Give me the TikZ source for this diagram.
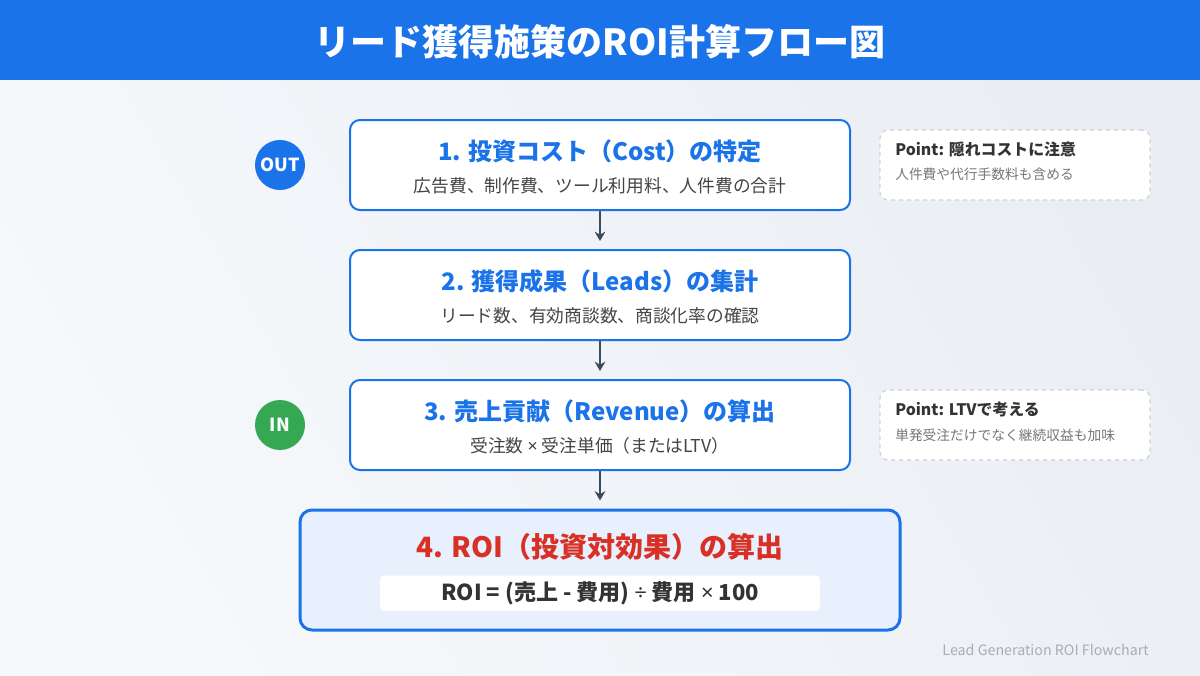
\documentclass[tikz,border=0pt]{standalone}
\usepackage{fontspec}
\setmainfont{Noto Sans CJK JP}
\newfontfamily\latfont{Noto Sans}
\usetikzlibrary{arrows.meta,shapes.geometric}
\definecolor{mainblue}{HTML}{1A73E8}
\definecolor{slate}{HTML}{3C4A5C}
\definecolor{subgray}{HTML}{444444}
\definecolor{dark}{HTML}{333333}
\definecolor{redt}{HTML}{D93025}
\definecolor{greenc}{HTML}{34A853}
\definecolor{lightfill}{HTML}{E8F0FD}
\definecolor{dashgray}{HTML}{CDD2D8}
\definecolor{footgray}{HTML}{9AA0A6}
\definecolor{ptsub}{HTML}{777777}
\definecolor{bgUL}{HTML}{F6F8FB}
\definecolor{bgLR}{HTML}{EAEEF4}
\tikzset{
  stepbox/.style={draw=mainblue, line width=1.5pt, fill=white, rounded corners=7.5pt, minimum width=375pt, minimum height=67.5pt, inner sep=0pt},
  finalbox/.style={draw=mainblue, line width=2.25pt, fill=lightfill, rounded corners=9pt, minimum width=450pt, minimum height=90pt, inner sep=0pt},
  steptitle/.style={font=\fontsize{18pt}{20pt}\selectfont\bfseries, text=mainblue, inner sep=0pt},
  stepsub/.style={font=\fontsize{13.3pt}{15pt}\selectfont, text=subgray, inner sep=0pt},
  badge/.style={circle, minimum size=37.5pt, inner sep=0pt, text=white, font=\fontsize{13.5pt}{14pt}\selectfont\bfseries},
  pointbox/.style={draw=dashgray, dashed, line width=0.9pt, fill=white, rounded corners=6pt, minimum width=202.5pt, minimum height=52.5pt, inner sep=0pt},
  pointtitle/.style={font=\fontsize{11.9pt}{13pt}\selectfont\bfseries, text=dark, anchor=west, inner sep=0pt},
  pointsub/.style={font=\fontsize{10.3pt}{12pt}\selectfont, text=ptsub, anchor=west, inner sep=0pt},
  arr/.style={draw=slate, line width=1.5pt, -{Stealth[length=7pt,width=8pt]}, shorten >=6pt}
}
\begin{document}
\begin{tikzpicture}[x=0.75pt,y=-0.75pt]
\useasboundingbox (0,0) rectangle (1200,675);
\shade[left color=bgUL, right color=bgLR, shading angle=120] (0,0) rectangle (1200,675);
\fill[mainblue] (0,0) rectangle (1200,80);
\node[text=white, font=\fontsize{27pt}{29pt}\selectfont\bfseries, inner sep=0pt] (title) at (600,42) {リード獲得施策のROI計算フロー図};

% step boxes
\node[stepbox] (b1) at (600,165) {};
\node[steptitle] (t1) at (600,151) {1. 投資コスト（Cost）の特定};
\node[stepsub] (s1) at (600,186) {広告費、制作費、ツール利用料、人件費の合計};

\node[stepbox] (b2) at (600,295) {};
\node[steptitle] (t2) at (600,281) {2. 獲得成果（Leads）の集計};
\node[stepsub] (s2) at (600,316) {リード数、有効商談数、商談化率の確認};

\node[stepbox] (b3) at (600,425) {};
\node[steptitle] (t3) at (600,411) {3. 売上貢献（Revenue）の算出};
\node[stepsub] (s3) at (600,446) {受注数 {\latfont ×} 受注単価（またはLTV）};

\node[finalbox] (b4) at (600,570) {};
\node[font=\fontsize{21pt}{23pt}\selectfont\bfseries, text=redt, inner sep=0pt] (t4) at (600,547) {4. ROI（投資対効果）の算出};
\node[fill=white, rounded corners=3pt, minimum width=330pt, minimum height=26.25pt, inner sep=0pt] (f4) at (600,593) {};
\node[font=\fontsize{16.5pt}{18pt}\selectfont\bfseries, text=dark, inner sep=0pt] (ft) at (600,593) {ROI = (売上 - 費用) {\latfont ÷} 費用 {\latfont ×} 100};

% arrows
\draw[arr] (b1.south) -- (b2.north);
\draw[arr] (b2.south) -- (b3.north);
\draw[arr] (b3.south) -- (b4.north);

% badges
\node[badge, fill=mainblue] (out) at (280,165) {OUT};
\node[badge, fill=greenc] (in) at (280,425) {IN};

% point boxes
\node[pointbox] (p1) at (1015,165) {};
\node[pointtitle] (p1t) at (895,149) {Point: 隠れコストに注意};
\node[pointsub] (p1s) at (895,174) {人件費や代行手数料も含める};

\node[pointbox] (p2) at (1015,425) {};
\node[pointtitle] (p2t) at (895,409) {Point: LTVで考える};
\node[pointsub] (p2s) at (895,435) {単発受注だけでなく継続収益も加味};

% footer
\node[font=\fontsize{10.7pt}{12pt}\selectfont, text=footgray!85, anchor=east, inner sep=0pt] (foot) at (1149,650) {Lead Generation ROI Flowchart};
\end{tikzpicture}
\end{document}
